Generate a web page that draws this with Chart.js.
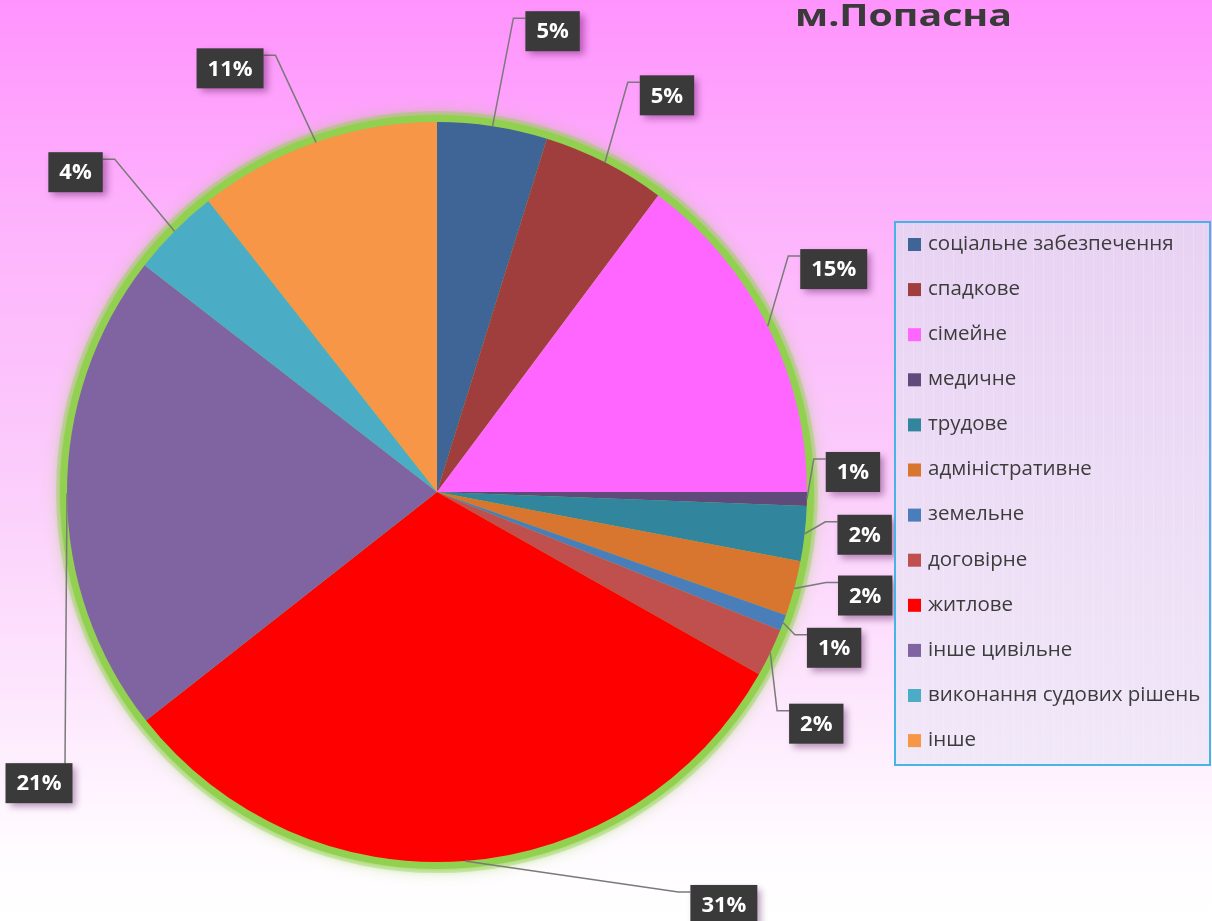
<!DOCTYPE html>
<html>
<head>
<meta charset="utf-8">
<title>м.Попасна</title>
<script src="https://cdn.jsdelivr.net/npm/chart.js@4"></script>
<style>
    body { margin: 0; }
    #wrap {
        width: 1212px;
        height: 921px;
        position: relative;
        background: linear-gradient(to bottom, #ff93fd 0%, #fdb4fc 25%, #fbcbfb 50%, #fde6fd 75%, #fffbff 92%, #ffffff 100%);
    }
</style>
</head>
<body>
<div id="wrap"><canvas id="myChart"></canvas></div>
<script>
// Дані діаграми
const title = 'м.Попасна';
const categories = [
    'соціальне забезпечення', 'спадкове', 'сімейне', 'медичне', 'трудове',
    'адміністративне', 'земельне', 'договірне', 'житлове', 'інше цивільне',
    'виконання судових рішень', 'інше'
];
const shares = [4.8, 5.4, 14.8, 0.6, 2.4, 2.4, 0.7, 2.1, 31.2, 21.1, 3.9, 10.6];
const colors = [
    '#3f6496', '#a03e3e', '#ff66ff', '#604a7b', '#31859c', '#d8752f',
    '#4a7ebb', '#c0504d', '#ff0000', '#8064a2', '#4bacc6', '#f79646'
];

// Зсув центру підпису від краю сектора (dx, dy); 'v' - вертикальна виноска
const labelOffsets = [
    [60, -95], [62, -67], [66, -57], [46, -27], [60, 1], [71, 7],
    [51, 25], [46, 71], [259, 44], [-28, 290, 'v'], [-99, -59], [-86, -74]
];

// Зелене світіння навколо кола
const glowPlugin = {
    id: 'glow',
    beforeDatasetsDraw(chart) {
        const arc = chart.getDatasetMeta(0).data[0];
        if (!arc) return;
        const ctx = chart.ctx;
        ctx.save();
        // м'який ореол
        ctx.fillStyle = 'rgba(146, 208, 80, 0.35)';
        ctx.shadowColor = 'rgba(146, 208, 80, 0.9)';
        ctx.shadowBlur = 14;
        ctx.beginPath();
        ctx.arc(arc.x, arc.y, arc.outerRadius + 11, 0, Math.PI * 2);
        ctx.fill();
        ctx.shadowBlur = 6;
        ctx.fillStyle = '#92d050';
        ctx.beginPath();
        ctx.arc(arc.x, arc.y, arc.outerRadius + 7, 0, Math.PI * 2);
        ctx.fill();
        ctx.restore();
    }
};

// Підписи з відсотками у темних прямокутниках
const labelPlugin = {
    id: 'boxLabels',
    afterDatasetsDraw(chart) {
        const ctx = chart.ctx;
        const meta = chart.getDatasetMeta(0);
        const total = shares.reduce((a, b) => a + b, 0);
        ctx.save();
        ctx.font = 'bold 22px "Open Sans"';
        meta.data.forEach((arc, i) => {
            const mid = (arc.startAngle + arc.endAngle) / 2;
            const ax = arc.x + Math.cos(mid) * arc.outerRadius;
            const ay = arc.y + Math.sin(mid) * arc.outerRadius;
            const text = Math.round(shares[i] / total * 100) + '%';
            const off = labelOffsets[i];
            const w = ctx.measureText(text).width + 22;
            const h = 40;
            const cx = ax + off[0];
            const cy = ay + off[1];
            const left = cx - w / 2;
            const top = cy - h / 2;

            // виноска
            ctx.strokeStyle = '#7a7a7a';
            ctx.lineWidth = 1.5;
            ctx.beginPath();
            ctx.moveTo(ax, ay);
            if (off[2] === 'v') {
                ctx.lineTo(ax - 2, top);
            } else if (cx > ax) {
                ctx.lineTo(left - 12, top + 7);
                ctx.lineTo(left, top + 7);
            } else {
                ctx.lineTo(left + w + 12, top + 7);
                ctx.lineTo(left + w, top + 7);
            }
            ctx.stroke();

            // прямокутник з тінню
            ctx.save();
            ctx.shadowColor = 'rgba(70, 0, 70, 0.4)';
            ctx.shadowBlur = 7;
            ctx.shadowOffsetX = 4;
            ctx.shadowOffsetY = 4;
            ctx.fillStyle = '#3a3a3a';
            ctx.fillRect(left, top, w, h);
            ctx.restore();

            ctx.fillStyle = '#ffffff';
            ctx.textAlign = 'center';
            ctx.textBaseline = 'middle';
            ctx.fillText(text, cx, cy + 1);
        });
        ctx.restore();
    }
};

// Легенда та заголовок
const legendPlugin = {
    id: 'sideLegend',
    afterDraw(chart) {
        const ctx = chart.ctx;
        ctx.save();

        // рамка легенди
        const bx = 895, by = 222, bw = 315, bh = 543;
        const grad = ctx.createLinearGradient(0, by, 0, by + bh);
        grad.addColorStop(0, '#e8d2f3');
        grad.addColorStop(1, '#f1e8f8');
        ctx.fillStyle = grad;
        ctx.fillRect(bx, by, bw, bh);
        // слабка сітка
        ctx.strokeStyle = 'rgba(255, 255, 255, 0.18)';
        ctx.lineWidth = 1;
        for (let x = bx + 8; x < bx + bw; x += 10) {
            ctx.beginPath();
            ctx.moveTo(x + 0.5, by);
            ctx.lineTo(x + 0.5, by + bh);
            ctx.stroke();
        }
        ctx.strokeStyle = '#45b5e5';
        ctx.lineWidth = 2;
        ctx.strokeRect(bx, by, bw, bh);

        ctx.font = '20.5px "Open Sans"';
        ctx.textBaseline = 'middle';
        categories.forEach((name, i) => {
            const y = 244 + i * 45.1;
            ctx.fillStyle = colors[i];
            ctx.fillRect(908, y - 6, 13, 13);
            ctx.fillStyle = '#3c3c3c';
            ctx.fillText(name, 928, y);
        });

        // заголовок, розтягнутий до ширини оригіналу
        ctx.font = 'bold 31px "Open Sans"';
        ctx.textBaseline = 'alphabetic';
        ctx.fillStyle = '#3a3a3a';
        const tw = ctx.measureText(title).width;
        ctx.translate(795, 26);
        ctx.scale(217 / tw, 1);
        ctx.fillText(title, 0, 0);
        ctx.restore();
    }
};

function createChart() {
    const ctx = document.getElementById('myChart').getContext('2d');
    return new Chart(ctx, {
        type: 'pie',
        data: {
            labels: categories,
            datasets: [{
                data: shares,
                backgroundColor: colors,
                borderWidth: 0
            }]
        },
        options: {
            responsive: true,
            maintainAspectRatio: false,
            animation: false,
            layout: {
                padding: { left: 67, right: 405, top: 122, bottom: 59 }
            },
            plugins: {
                legend: { display: false },
                tooltip: { enabled: false }
            }
        },
        plugins: [glowPlugin, labelPlugin, legendPlugin]
    });
}

createChart();
</script>
</body>
</html>
